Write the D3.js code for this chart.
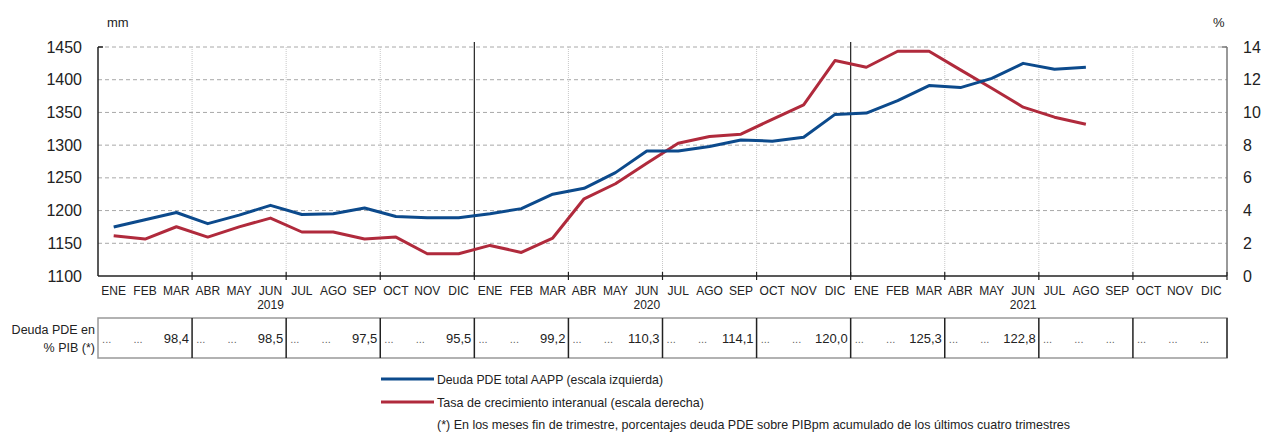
<!DOCTYPE html>
<html><head><meta charset="utf-8">
<script src="https://cdn.jsdelivr.net/npm/d3@7"></script>
<style>body{margin:0;background:#fff}svg{display:block;font-family:"Liberation Sans",Arial,sans-serif}</style>
</head><body><svg id="c" width="1261" height="435"></svg>
<script>
const months = ["ENE","FEB","MAR","ABR","MAY","JUN","JUL","AGO","SEP","OCT","NOV","DIC"];
const years = ["2019","2020","2021"];
const deuda = [1175,1186,1197,1180,1193,1208,1194,1195,1204,1191,1189,1189,
               1195,1203,1225,1234,1258,1291,1291,1298,1308,1306,1312,1347,
               1349,1368,1391,1388,1402,1425,1416,1419];
const tasa = [2.46,2.26,3.01,2.38,3.0,3.54,2.69,2.69,2.26,2.38,1.36,1.36,
              1.87,1.44,2.32,4.72,5.64,6.90,8.12,8.53,8.67,9.58,10.46,13.17,
              12.76,13.74,13.74,12.6,11.48,10.32,9.71,9.28];
const pib = ["98,4","98,5","97,5","95,5","99,2","110,3","114,1","120,0","125,3","122,8",null,null];
const leftTicks = [1100,1150,1200,1250,1300,1350,1400,1450];
const rightTicks = [0,2,4,6,8,10,12,14];
const legendLabels = ["Deuda PDE total AAPP (escala izquierda)","Tasa de crecimiento interanual (escala derecha)"];
const note = "(*) En los meses fin de trimestre, porcentajes deuda PDE sobre PIBpm acumulado de los últimos cuatro trimestres";

const BLUE = "#0c4a8c", RED = "#b02a3c";
const svg = d3.select("#c");
const L = 98, R = 1227, T = 47, B = 276;
const keys = [];
years.forEach(y => months.forEach(m => keys.push(y + "-" + m)));
const x = d3.scaleBand().domain(keys).range([L, R]).padding(0);
const yL = d3.scaleLinear().domain([1100,1450]).range([B, T]);
const yR = d3.scaleLinear().domain([0,14]).range([B, T]);
const bw = x.bandwidth();

// horizontal gridlines
svg.append("g").selectAll("line").data(leftTicks.filter(d => d > 1100)).join("line")
  .attr("x1", L).attr("x2", R).attr("y1", d => yL(d)).attr("y2", d => yL(d))
  .attr("stroke", "#a8a8a8").attr("stroke-width", 1).attr("stroke-dasharray", "4,3");

// quarter vertical gridlines
const qIdx = d3.range(3, 36, 3).filter(i => i % 12 !== 0);
svg.append("g").selectAll("line").data(qIdx).join("line")
  .attr("x1", i => x(keys[i])).attr("x2", i => x(keys[i]))
  .attr("y1", T).attr("y2", B)
  .attr("stroke", "#c8c8c8").attr("stroke-width", 1).attr("stroke-dasharray", "1,1");

// year separators
svg.append("g").selectAll("line").data([12, 24]).join("line")
  .attr("x1", i => x(keys[i])).attr("x2", i => x(keys[i]))
  .attr("y1", 42).attr("y2", B)
  .attr("stroke", "#222").attr("stroke-width", 1.2);

// axes lines
svg.append("line").attr("x1", L).attr("x2", L).attr("y1", T).attr("y2", B).attr("stroke", "#222").attr("stroke-width", 1.5);
svg.append("line").attr("x1", R).attr("x2", R).attr("y1", T).attr("y2", B).attr("stroke", "#777").attr("stroke-width", 1.5);
svg.append("line").attr("x1", L).attr("x2", R).attr("y1", B).attr("y2", B).attr("stroke", "#222").attr("stroke-width", 1.5);
svg.append("line").attr("x1", L).attr("x2", L + 5).attr("y1", T).attr("y2", T).attr("stroke", "#222").attr("stroke-width", 1.5);
svg.append("line").attr("x1", R - 5).attr("x2", R).attr("y1", T).attr("y2", T).attr("stroke", "#777").attr("stroke-width", 1.5);
// quarter ticks on x axis
svg.append("g").selectAll("line").data(d3.range(3, 37, 3)).join("line")
  .attr("x1", i => i < 36 ? x(keys[i]) : R).attr("x2", i => i < 36 ? x(keys[i]) : R)
  .attr("y1", B - 4).attr("y2", B + 4).attr("stroke", "#222").attr("stroke-width", 1.2);

// left axis labels
const gL = svg.append("g").attr("transform", `translate(${L},0)`)
  .call(d3.axisLeft(yL).tickValues(leftTicks).tickSize(0).tickPadding(16).tickFormat(d3.format("d")));
gL.select(".domain").remove();
gL.selectAll("text").attr("font-size", 16).attr("fill", "#222").attr("font-family", "Liberation Sans, Arial, sans-serif");
const gR = svg.append("g").attr("transform", `translate(${R},0)`)
  .call(d3.axisRight(yR).tickValues(rightTicks).tickSize(0).tickPadding(16).tickFormat(d3.format("d")));
gR.select(".domain").remove();
gR.selectAll("text").attr("font-size", 16).attr("fill", "#222").attr("font-family", "Liberation Sans, Arial, sans-serif");

svg.append("text").attr("x", 107).attr("y", 27).attr("font-size", 13).attr("fill", "#222").text("mm");
svg.append("text").attr("x", 1213).attr("y", 27).attr("font-size", 13).attr("fill", "#222").text("%");

// month labels
const gX = svg.append("g").attr("transform", `translate(0,${B})`)
  .call(d3.axisBottom(x).tickSize(0).tickPadding(10).tickFormat(k => k.split("-")[1]));
gX.select(".domain").remove();
gX.selectAll("text").attr("font-size", 12).attr("fill", "#222").attr("font-family", "Liberation Sans, Arial, sans-serif");
svg.append("g").selectAll("text").data(years).join("text")
  .attr("x", y => x(y + "-JUN") + bw / 2).attr("y", 309).attr("text-anchor", "middle")
  .attr("font-size", 12).attr("fill", "#222").text(d => d);

// lines
const lineL = d3.line().x((d, i) => x(keys[i]) + bw / 2).y(d => yL(d));
const lineR = d3.line().x((d, i) => x(keys[i]) + bw / 2).y(d => yR(d));
svg.append("path").datum(tasa).attr("d", lineR).attr("fill", "none").attr("stroke", RED).attr("stroke-width", 3).attr("stroke-linejoin", "round");
svg.append("path").datum(deuda).attr("d", lineL).attr("fill", "none").attr("stroke", BLUE).attr("stroke-width", 3).attr("stroke-linejoin", "round");

// table
const tT = 318, tB = 358;
svg.append("rect").attr("x", L).attr("y", tT).attr("width", R - L).attr("height", tB - tT)
  .attr("fill", "none").attr("stroke", "#999").attr("stroke-width", 1.5);
svg.append("line").attr("x1", R).attr("x2", R).attr("y1", tT).attr("y2", tB).attr("stroke", "#333").attr("stroke-width", 1.5);
svg.append("g").selectAll("line").data(d3.range(3, 36, 3)).join("line")
  .attr("x1", i => x(keys[i])).attr("x2", i => x(keys[i])).attr("y1", tT).attr("y2", tB)
  .attr("stroke", "#222").attr("stroke-width", 1.5);
const cells = [];
keys.forEach((k, i) => {
  const q = Math.floor(i / 3);
  const last = i % 3 === 2;
  cells.push({k, val: last && pib[q] ? pib[q] : null});
});
svg.append("g").selectAll("text").data(cells).join("text")
  .attr("x", d => d.val ? x(d.k) + bw - 3 : x(d.k) + bw / 2 - 7)
  .attr("y", 343)
  .attr("text-anchor", d => d.val ? "end" : "middle")
  .attr("font-size", d => d.val ? 13 : 11)
  .attr("fill", d => d.val ? "#222" : "#666")
  .text(d => d.val ? d.val : "...");
svg.append("text").attr("x", 95).attr("y", 334).attr("text-anchor", "end").attr("font-size", 12.5).attr("fill", "#222").text("Deuda PDE en");
svg.append("text").attr("x", 95).attr("y", 352).attr("text-anchor", "end").attr("font-size", 12.5).attr("fill", "#222").text("% PIB (*)");

// legend
const legY = [379, 402];
const legW = [226, 267];
[BLUE, RED].forEach((c, i) => {
  svg.append("line").attr("x1", 381).attr("x2", 434).attr("y1", legY[i]).attr("y2", legY[i]).attr("stroke", c).attr("stroke-width", 3);
  svg.append("text").attr("x", 437).attr("y", legY[i] + 4.5).attr("font-size", 13).attr("fill", "#222")
    .attr("textLength", legW[i]).attr("lengthAdjust", "spacingAndGlyphs").text(legendLabels[i]);
});
svg.append("text").attr("x", 437).attr("y", 428.5).attr("font-size", 13).attr("fill", "#222")
  .attr("textLength", 633).attr("lengthAdjust", "spacingAndGlyphs").text(note);
</script></body></html>
